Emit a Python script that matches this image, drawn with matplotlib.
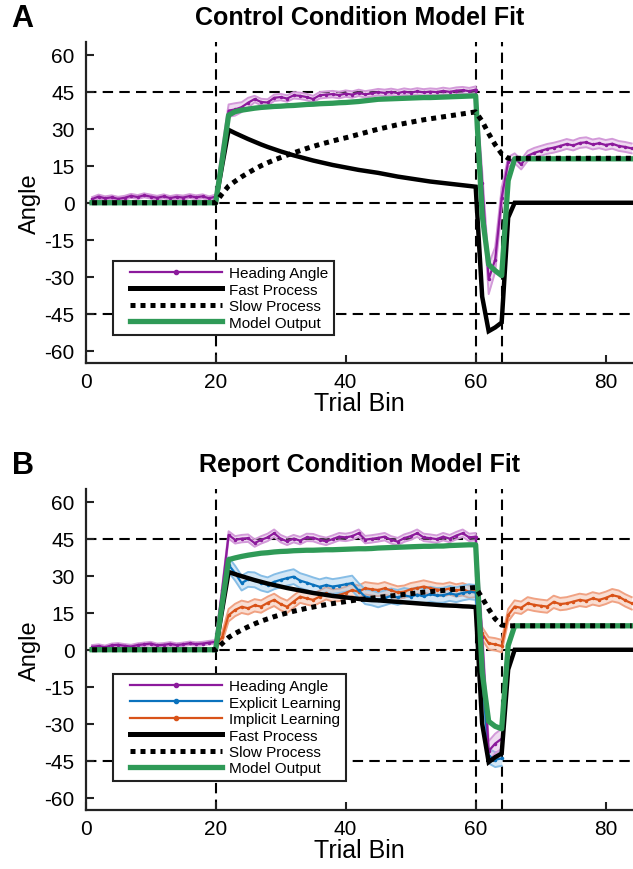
import numpy as np
import matplotlib
matplotlib.use("Agg")
import matplotlib.pyplot as plt
from matplotlib.lines import Line2D
from matplotlib.legend_handler import HandlerLine2D

plt.rcParams['font.family'] = ['Liberation Sans', 'DejaVu Sans']
plt.rcParams['axes.unicode_minus'] = False

# ---------------- data ----------------
bins = np.arange(1, 85)

# control condition
ctrl_heading = [1.5, 2.5, 1.8, 2.2, 1.6, 2.0, 2.8, 2.3, 3.0, 2.5, 2.0, 2.6, 1.9, 2.4, 2.1, 2.7, 2.2, 2.6, 1.8, 2.5,
                20.0, 37.3, 37.8, 38.7, 40.5, 42.0, 40.8, 40.6, 42.5, 42.8, 42.2, 43.5, 43.3, 42.8, 42.0, 43.5, 43.8, 44.0, 43.6, 44.2,
                43.8, 44.5, 43.9, 44.3, 44.8, 44.5, 44.9, 44.4, 45.0, 44.6, 45.1, 44.7, 45.0, 44.8, 45.3, 44.9, 45.4, 45.6, 45.2, 45.8,
                8.0, -31.0, -23.0, 2.0, 16.5, 18.0, 15.5, 19.0, 20.2, 21.0, 21.8, 22.3, 23.0, 23.8, 23.2, 24.2, 24.5, 23.6, 24.1, 23.4,
                23.9, 23.0, 22.6, 22.0]
ctrl_heading_sem = [0.8] * 20 + [2.5, 2.5, 2.5, 2.0, 2.0] + [1.3] * 35 + [5.0, 6.0, 5.0, 4.0] + [2.0] * 20
ctrl_fast = [0.0] * 20 + [15.0, 29.5, 28.2, 27.0, 25.8, 24.7, 23.6, 22.6, 21.7, 20.8, 20.0, 19.2, 18.5, 17.8, 17.1, 16.5,
                          15.9, 15.3, 14.8, 14.3, 13.8, 13.3, 12.9, 12.5, 12.1, 11.6, 11.1, 10.6, 10.2, 9.8, 9.4, 9.0,
                          8.6, 8.3, 8.0, 7.7, 7.4, 7.1, 6.8, 6.5,
                          -38.0, -52.0, -50.5, -48.5, -6.0] + [0.0] * 19
ctrl_slow = [0.0] * 20 + [3.6, 6.8, 8.7, 10.5, 12.1, 13.6, 15.0, 16.2, 17.3, 18.3, 19.3, 20.2, 21.1, 22.0, 22.8, 23.6,
                          24.3, 25.0, 25.7, 26.3, 27.0, 27.7, 28.4, 29.1, 29.8, 30.4, 31.0, 31.6, 32.1, 32.6, 33.1, 33.6,
                          34.0, 34.4, 34.8, 35.2, 35.6, 36.0, 36.4, 36.8,
                          33.0, 28.0, 23.5, 19.8, 18.0] + [18.0] * 19
ctrl_model = [0.0] * 20 + [17.0, 35.5, 36.9, 37.5, 37.9, 38.3, 38.6, 38.8, 39.0, 39.1, 39.3, 39.4, 39.6, 39.8, 39.9, 40.1,
                           40.2, 40.3, 40.5, 40.6, 40.8, 41.0, 41.3, 41.6, 41.9, 42.0, 42.1, 42.2, 42.3, 42.4, 42.5, 42.6,
                           42.6, 42.7, 42.8, 42.9, 43.0, 43.1, 43.2, 43.3,
                           -5.0, -25.0, -27.5, -29.5, 9.0] + [17.8] * 19

# report condition
rep_heading = [1.2, 1.5, 1.0, 1.8, 2.0, 1.6, 1.3, 1.9, 2.2, 2.5, 1.8, 2.0, 2.4, 1.9, 2.2, 2.6, 2.3, 2.5, 2.9, 3.2,
               24.0, 46.5, 44.5, 45.0, 45.2, 43.2, 44.5, 45.5, 47.2, 45.0, 43.9, 45.0, 44.2, 45.5, 45.4, 44.5, 43.9, 44.8, 45.8, 45.5,
               46.0, 47.2, 44.6, 44.9, 45.3, 45.8, 44.5, 43.8, 45.2, 46.0, 47.2, 45.5, 45.2, 44.8, 45.8, 45.0, 46.2, 47.2, 45.5, 45.8,
               5.0, -41.0, -38.0, -36.0]
rep_heading_sem = [0.7] * 20 + [1.5] * 40 + [4.0, 4.0, 4.0, 4.0]
explicit_bins = np.arange(21, 65)
rep_explicit = [17.0, 34.4, 31.0, 27.0, 28.5, 28.3, 27.0, 26.3, 27.5, 28.3, 29.0, 29.6, 28.0, 27.2, 26.3, 25.5, 26.2, 25.6,
                26.0, 26.5, 27.0, 24.0, 21.5, 21.0, 20.2, 21.0, 21.8, 21.2, 22.0, 21.5, 22.3, 21.6, 22.5, 22.0, 22.1, 22.8,
                22.3, 23.0, 23.5, 23.2, -10.0, -43.0, -44.5, -44.0]
rep_explicit_sem = [3.0] * 44
implicit_bins = np.arange(20, 85)
rep_implicit = [2.0, 5.0, 14.0, 16.1, 17.4, 16.8, 18.0, 17.5, 19.0, 20.2, 18.5, 17.4, 19.5, 21.5, 20.8, 20.2, 21.5, 22.9,
                22.0, 22.2, 23.0, 24.2, 23.5, 24.9, 24.5, 24.2, 24.9, 24.0, 23.2, 23.5, 24.5, 25.0, 25.6, 25.0, 24.4, 24.2,
                24.8, 24.0, 24.5, 23.5, 23.8, 6.6, 2.6, 2.2, 1.5, 14.0, 17.5, 17.0, 18.8, 18.2, 17.8, 17.5, 19.4, 18.5,
                18.8, 19.5, 20.2, 19.8, 20.8, 20.2, 21.0, 22.1, 21.5, 20.0, 18.8]
rep_implicit_sem = [1.0, 2.0] + [2.5] * 63
rep_fast = [0.0] * 20 + [16.0, 31.5, 30.6, 29.8, 29.0, 28.2, 27.5, 26.8, 26.2, 25.6, 25.0, 24.5, 24.0, 23.5, 23.0, 22.6,
                         22.2, 21.8, 21.5, 21.2, 20.9, 20.6, 20.3, 20.1, 20.0, 19.8, 19.6, 19.4, 19.2, 19.0, 18.8, 18.6,
                         18.4, 18.2, 18.0, 17.9, 17.8, 17.6, 17.5, 17.3,
                         -30.0, -45.5, -43.5, -42.0, -8.0] + [0.0] * 19
rep_slow = [0.0] * 20 + [2.5, 5.0, 6.6, 8.0, 9.3, 10.5, 11.6, 12.5, 13.4, 14.2, 14.9, 15.6, 16.2, 16.8, 17.3, 17.8,
                         18.3, 18.7, 19.1, 19.5, 19.9, 20.3, 20.6, 20.9, 21.2, 21.5, 21.8, 22.1, 22.4, 22.7, 23.0, 23.3,
                         23.5, 23.8, 24.0, 24.3, 24.5, 24.8, 25.0, 25.2,
                         21.0, 16.5, 12.5, 10.0, 9.7] + [9.7] * 19
rep_model = [0.0] * 20 + [18.5, 36.5, 37.2, 37.8, 38.3, 38.7, 39.1, 39.3, 39.6, 39.8, 39.9, 40.1, 40.2, 40.3, 40.3, 40.4,
                          40.5, 40.5, 40.6, 40.7, 40.8, 40.9, 40.9, 41.0, 41.2, 41.3, 41.4, 41.5, 41.6, 41.7, 41.8, 41.9,
                          41.9, 42.0, 42.0, 42.2, 42.3, 42.4, 42.5, 42.5,
                          -9.0, -29.0, -31.0, -32.0, 1.7] + [9.7] * 19

yticks = [-60, -45, -30, -15, 0, 15, 30, 45, 60]
xticks = [0, 20, 40, 60, 80]
vlines = [20, 60, 64]
hlines = [45, 0, -45]

purple, purple_l = '#8c1a9c', '#d39ad9'
blue, blue_l = '#0b72bd', '#86bde6'
orange, orange_l = '#d95319', '#f0a283'
green = '#2f9a57'


def shaded(ax, x, m, s, col, light):
    x = np.asarray(x)
    m = np.asarray(m)
    s = np.asarray(s)
    ax.fill_between(x, m - s, m + s, color=light, alpha=0.35, lw=0, zorder=2)
    ax.plot(x, m - s, color=light, lw=1.4, zorder=2)
    ax.plot(x, m + s, color=light, lw=1.4, zorder=2)
    ax.plot(x, m, color=col, lw=1.6, marker='.', ms=3, zorder=3)


def setup(ax, letter, title):
    for v in vlines:
        ax.axvline(v, color='k', lw=1.5, ls=(0, (5, 3)), zorder=1)
    for h in hlines:
        ax.axhline(h, color='k', lw=1.5, ls=(0, (5, 3)), zorder=1)
    ax.set_xlim(0, 84.2)
    ax.set_ylim(-65, 65)
    ax.set_xticks(xticks)
    ax.set_yticks(yticks)
    ax.spines['top'].set_visible(False)
    ax.spines['right'].set_visible(False)
    for sp in ['left', 'bottom']:
        ax.spines[sp].set_linewidth(1.6)
        ax.spines[sp].set_color('#222222')
    ax.tick_params(direction='in', length=6, width=1.5, labelsize=15, color='#222222')
    ax.tick_params(axis='y', pad=8)
    ax.tick_params(axis='x', pad=6)
    ax.set_xlabel('Trial Bin', fontsize=18, labelpad=0)
    ax.set_ylabel('Angle', fontsize=17, labelpad=2)
    ax.set_title(title, fontsize=18, fontweight='bold', pad=13)
    ax.text(-0.135, 1.075, letter, transform=ax.transAxes, fontsize=22, fontweight='bold',
            va='center', ha='left')


def model_lines(ax, fast, slow, model):
    ax.plot(bins, fast, color='k', lw=3.2, zorder=4, solid_joinstyle='miter')
    ax.plot(bins, model, color=green, lw=3.8, zorder=5)
    ax.plot(bins, slow, color='k', lw=3.6, dashes=(1, 1), dash_capstyle='butt', zorder=6)


def legend(ax, handles, labels, y0):
    leg = ax.legend(handles, labels, loc='lower left', bbox_to_anchor=(0.05, y0), borderaxespad=0,
                    fontsize=11, handlelength=6.77, handletextpad=0.48, labelspacing=0.16,
                    borderpad=0.35, fancybox=False, framealpha=1, edgecolor='#222222',
                    handler_map={Line2D: HandlerLine2D(xpad=0.76)})
    leg.get_frame().set_linewidth(1.5)
    return leg


fig = plt.figure(figsize=(6.33, 8.70), dpi=100)
axA = fig.add_axes([0.1352, 0.5813, 0.8648, 0.369])
axB = fig.add_axes([0.1352, 0.0675, 0.8648, 0.369])

# panel A
setup(axA, 'A', 'Control Condition Model Fit')
shaded(axA, bins, ctrl_heading, ctrl_heading_sem, purple, purple_l)
model_lines(axA, ctrl_fast, ctrl_slow, ctrl_model)
hA = [Line2D([], [], color=purple, lw=1.6, marker='.', ms=6),
      Line2D([], [], color='k', lw=3.6),
      Line2D([], [], color='k', lw=3.6, dashes=(1, 1), dash_capstyle='butt'),
      Line2D([], [], color=green, lw=3.8)]
legend(axA, hA, ['Heading Angle', 'Fast Process', 'Slow Process', 'Model Output'], 0.088)

# panel B
setup(axB, 'B', 'Report Condition Model Fit')
shaded(axB, implicit_bins, rep_implicit, rep_implicit_sem, orange, orange_l)
shaded(axB, explicit_bins, rep_explicit, rep_explicit_sem, blue, blue_l)
shaded(axB, bins[:64], rep_heading, rep_heading_sem, purple, purple_l)
model_lines(axB, rep_fast, rep_slow, rep_model)
hB = [Line2D([], [], color=purple, lw=1.6, marker='.', ms=6),
      Line2D([], [], color=blue, lw=1.6, marker='.', ms=6),
      Line2D([], [], color=orange, lw=1.6, marker='.', ms=6),
      Line2D([], [], color='k', lw=3.6),
      Line2D([], [], color='k', lw=3.6, dashes=(1, 1), dash_capstyle='butt'),
      Line2D([], [], color=green, lw=3.8)]
legend(axB, hB, ['Heading Angle', 'Explicit Learning', 'Implicit Learning', 'Fast Process',
                 'Slow Process', 'Model Output'], 0.092)

fig.savefig('out.png', dpi=100)
